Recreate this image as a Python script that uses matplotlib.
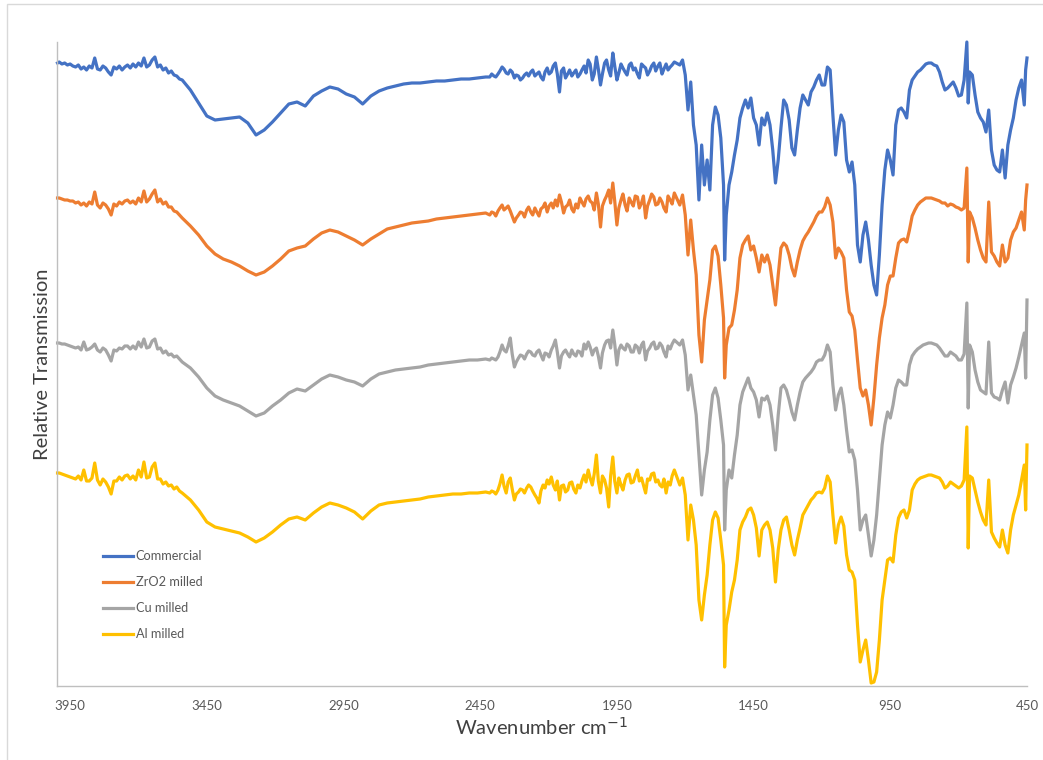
import matplotlib
matplotlib.use("Agg")
import matplotlib.pyplot as plt
from matplotlib.patches import Rectangle

plt.rcParams['font.family'] = ['Lato', 'DejaVu Sans']

# wavenumbers (cm-1), shared by all four spectra
wn_high = [3996, 3990, 3980, 3970, 3960, 3950, 3940, 3930, 3920, 3910, 3900, 3890,
           3880, 3870, 3860, 3850, 3840, 3830, 3820, 3810, 3800, 3790, 3780, 3770,
           3760, 3750, 3740, 3730, 3720, 3710, 3700, 3690, 3680, 3670, 3660, 3650,
           3640, 3630, 3620, 3610, 3600, 3590, 3580, 3570, 3560, 3550, 3540]
wn_mid = [3510, 3480, 3450, 3420, 3390, 3360, 3330, 3300, 3270, 3240, 3210, 3180,
          3150, 3120, 3090, 3060, 3030, 3000, 2970, 2940, 2910, 2880, 2850, 2820,
          2790, 2760, 2730, 2700, 2670, 2640, 2610, 2580, 2550, 2520, 2490, 2460, 2430]
wn_noisy = [2415, 2408, 2400, 2393, 2385, 2378, 2370, 2363, 2355, 2348, 2340, 2333,
            2325, 2318, 2310, 2303, 2295, 2288, 2280, 2273, 2265, 2258, 2250, 2243,
            2235, 2228, 2220, 2213, 2205, 2198, 2190, 2183, 2175, 2168, 2160, 2153,
            2145, 2138, 2130, 2123, 2115, 2108, 2100, 2093, 2085, 2078, 2070, 2063,
            2055, 2048, 2040, 2033, 2025, 2018, 2010, 2003, 1995, 1988, 1980, 1973,
            1965, 1958, 1950, 1943, 1935, 1928, 1920, 1913, 1905, 1898, 1890, 1883,
            1875, 1868, 1860, 1853, 1845, 1838, 1830, 1823, 1815, 1808, 1800, 1793,
            1785, 1778, 1770, 1763, 1755, 1748, 1740]
wn_finger = [1720, 1710, 1700, 1690, 1680, 1670, 1660, 1650, 1640, 1630, 1620, 1610,
             1600, 1590, 1580, 1570, 1560, 1556,
             1550, 1540, 1530, 1520, 1510, 1500, 1490, 1480, 1470, 1460,
             1450, 1440, 1430, 1420, 1410, 1400, 1390, 1380, 1370, 1360,
             1350, 1340, 1330, 1320, 1310, 1300, 1290, 1280, 1270, 1260,
             1250, 1240, 1230, 1220, 1210, 1200, 1190, 1180, 1170, 1160,
             1150, 1140, 1130, 1120, 1110, 1100, 1090, 1080, 1070, 1060,
             1050, 1040, 1030, 1020, 1010, 1000, 990, 980, 970, 960,
             950, 940, 930, 920, 910, 900, 890, 880, 870, 860,
             850, 840, 830, 820, 810, 800, 790, 780, 770, 760,
             750, 740, 730, 720, 710, 700, 690, 680, 670, 665,
             660, 650, 640, 630, 620, 610, 600, 590, 580, 570,
             560, 550, 540, 530, 520, 510, 500, 490, 480, 470,
             460, 455, 450]
wavenumber = wn_high + wn_mid + wn_noisy + wn_finger

# relative transmission (arbitrary units, traces already offset as in the chart)
commercial = [
    623, 624, 622, 623, 621, 622, 620, 619, 621, 617, 619, 616, 620, 618, 628, 617,
    616, 620, 618, 614, 611, 619, 617, 620, 616, 619, 621, 618, 622, 619, 623, 620,
    628, 619, 621, 626, 629, 619, 621, 616, 618, 613, 615, 611, 610, 607, 606,
    596, 583, 570, 566, 567, 568, 569, 563, 551, 556, 564, 573, 582, 584, 580, 590, 595, 599, 597, 592,
    589, 582, 590, 595, 598, 600, 602, 603, 603, 604, 605, 605, 606, 607, 607, 608, 609,
    609, 612, 610, 609, 612, 615, 619, 617, 613, 612, 616, 614, 608, 611, 610, 606,
    608, 611, 613, 610, 614, 616, 610, 612, 614, 609, 606, 614, 618, 612, 614, 620,
    623, 612, 594, 615, 618, 608, 612, 616, 610, 613, 616, 609, 612, 616, 620, 613,
    626, 622, 606, 612, 629, 617, 601, 612, 623, 626, 616, 610, 633, 620, 606, 613,
    622, 618, 614, 611, 621, 623, 616, 618, 612, 608, 622, 620, 618, 611, 615, 620,
    623, 615, 620, 623, 612, 617, 622, 616, 619, 621, 624,
    621, 626, 611, 576, 604, 561, 541, 486, 541, 501, 526, 496, 561, 579, 571, 548, 501, 426,
    471, 501, 514, 531, 546, 568, 578, 586, 578, 588,
    568, 561, 541, 568, 561, 573, 561, 536, 503, 526,
    558, 586, 581, 566, 538, 531, 556, 578, 591, 586,
    581, 594, 599, 606, 611, 601, 601, 619, 616, 571,
    531, 556, 571, 564, 526, 514, 524, 501, 441, 424,
    451, 464, 446, 421, 401, 391, 431, 481, 516, 536,
    526, 511, 561, 576, 578, 574, 568, 596, 606, 610,
    614, 616, 619, 622, 623, 623, 621, 620, 614, 604,
    596, 598, 601, 604, 598, 590, 591, 606, 644, 583,
    614, 611, 591, 574, 568, 564, 554, 576, 536, 521,
    516, 514, 536, 508, 541, 556, 568, 586, 598, 606,
    581, 616, 628]
zro2_milled = [
    488, 488, 487, 486, 486, 485, 485, 483, 484, 481, 483, 480, 484, 482, 494, 481,
    478, 483, 481, 477, 471, 482, 480, 484, 482, 485, 486, 483, 485, 482, 488, 484,
    495, 484, 487, 492, 496, 484, 487, 482, 484, 479, 479, 475, 474, 471, 468,
    460, 451, 440, 432, 427, 424, 420, 415, 411, 414, 420, 427, 435, 438, 440, 447, 453, 456, 454, 450,
    446, 441, 447, 452, 457, 459, 461, 463, 464, 465, 467, 468, 469, 470, 471, 472, 473,
    471, 474, 473, 470, 475, 478, 481, 476, 478, 480, 475, 470, 464, 468, 471, 474,
    473, 469, 476, 479, 474, 471, 478, 474, 470, 477, 479, 483, 474, 480, 483, 478,
    486, 480, 491, 484, 473, 479, 481, 486, 477, 474, 482, 478, 488, 484, 480, 487,
    490, 485, 483, 476, 493, 482, 459, 480, 486, 490, 496, 483, 503, 485, 461, 478,
    486, 492, 481, 475, 488, 484, 480, 490, 489, 478, 483, 490, 468, 480, 486, 492,
    489, 481, 482, 488, 484, 478, 474, 490, 486, 482, 493,
    481, 491, 471, 431, 466, 436, 411, 351, 324, 366, 386, 406, 436, 440, 430, 401, 368, 308,
    341, 358, 361, 376, 396, 428, 441, 446, 450, 436,
    440, 428, 414, 431, 424, 431, 421, 401, 381, 411,
    438, 443, 440, 431, 418, 410, 424, 436, 445, 450,
    454, 459, 464, 470, 474, 474, 479, 488, 481, 464,
    428, 438, 434, 428, 396, 374, 370, 356, 326, 298,
    290, 296, 281, 261, 288, 321, 348, 368, 381, 401,
    410, 410, 428, 443, 446, 447, 444, 456, 470, 476,
    481, 484, 486, 488, 488, 488, 487, 486, 485, 483,
    483, 480, 482, 481, 479, 478, 476, 478, 518, 424,
    474, 468, 458, 446, 436, 428, 424, 484, 434, 430,
    424, 420, 441, 424, 428, 446, 454, 458, 466, 474,
    456, 486, 501]
cu_milled = [
    343, 343, 342, 342, 341, 340, 339, 338, 339, 336, 344, 336, 337, 339, 342, 336,
    334, 338, 336, 331, 325, 336, 335, 338, 337, 340, 340, 337, 340, 337, 344, 339,
    347, 338, 339, 345, 347, 337, 338, 333, 335, 331, 332, 329, 330, 327, 324,
    318, 309, 298, 290, 286, 283, 280, 275, 270, 273, 280, 286, 293, 297, 295, 301, 307, 311, 309, 306,
    304, 300, 307, 312, 314, 316, 317, 318, 319, 321, 322, 323, 324, 325, 326, 326, 327,
    326, 328, 327, 326, 329, 334, 341, 336, 334, 340, 348, 332, 319, 324, 328, 331,
    330, 327, 332, 335, 334, 331, 330, 334, 336, 331, 326, 333, 332, 329, 336, 340,
    346, 334, 318, 330, 334, 336, 332, 329, 336, 332, 330, 335, 334, 330, 342, 337,
    344, 339, 331, 336, 338, 330, 318, 333, 341, 345, 346, 338, 356, 342, 321, 336,
    341, 338, 336, 342, 340, 334, 334, 341, 339, 333, 341, 344, 326, 335, 338, 342,
    344, 337, 338, 343, 340, 334, 329, 340, 337, 342, 346,
    341, 346, 331, 296, 311, 291, 271, 231, 191, 216, 234, 266, 291, 298, 288, 266, 241, 156,
    196, 216, 208, 231, 251, 281, 294, 301, 308, 298,
    294, 286, 269, 288, 286, 290, 281, 261, 236, 271,
    298, 301, 296, 286, 274, 266, 281, 294, 304, 308,
    311, 314, 318, 324, 326, 326, 331, 341, 334, 301,
    276, 291, 298, 281, 256, 234, 236, 226, 196, 156,
    166, 171, 151, 130, 146, 171, 206, 241, 261, 274,
    268, 281, 298, 306, 304, 301, 301, 321, 330, 334,
    337, 339, 341, 342, 343, 343, 342, 341, 338, 334,
    330, 330, 334, 332, 330, 326, 326, 332, 383, 278,
    341, 334, 316, 304, 296, 294, 292, 344, 293, 289,
    288, 286, 296, 304, 283, 301, 309, 318, 329, 341,
    353, 308, 386]
al_milled = [
    213, 213, 212, 211, 210, 209, 208, 207, 210, 206, 216, 205, 205, 208, 223, 206,
    201, 207, 204, 199, 192, 205, 205, 209, 206, 210, 211, 207, 210, 206, 216, 209,
    224, 208, 209, 219, 223, 207, 207, 202, 204, 200, 201, 197, 199, 195, 193,
    186, 176, 164, 159, 157, 155, 153, 149, 144, 148, 154, 161, 167, 169, 166, 173, 179, 183, 181, 178,
    174, 167, 175, 181, 183, 184, 185, 186, 187, 189, 190, 191, 192, 192, 193, 193, 194,
    193, 195, 194, 192, 196, 202, 211, 200, 193, 204, 208, 197, 186, 192, 194, 197,
    196, 193, 198, 201, 199, 195, 191, 188, 183, 195, 201, 198, 206, 202, 209, 201,
    196, 205, 186, 200, 201, 194, 196, 203, 204, 197, 193, 201, 198, 205, 211, 204,
    216, 208, 201, 212, 231, 205, 193, 210, 206, 198, 179, 210, 229, 205, 193, 208,
    201, 196, 206, 211, 212, 203, 204, 210, 216, 205, 208, 201, 193, 207, 206, 212,
    213, 204, 206, 201, 199, 207, 193, 204, 201, 210, 216,
    201, 208, 191, 146, 181, 166, 141, 86, 66, 91, 111, 141, 166, 174, 168, 146, 121, 19,
    61, 76, 94, 106, 126, 156, 164, 169, 176, 178,
    171, 158, 130, 156, 161, 164, 156, 138, 104, 136,
    156, 166, 169, 156, 141, 131, 146, 158, 171, 176,
    181, 186, 189, 193, 194, 193, 198, 210, 204, 171,
    143, 161, 169, 160, 131, 116, 114, 106, 61, 24,
    36, 46, 26, 3, 4, 14, 46, 86, 106, 126,
    128, 124, 151, 168, 174, 176, 168, 176, 196, 202,
    206, 208, 209, 210, 211, 211, 210, 209, 208, 204,
    198, 200, 204, 202, 200, 198, 200, 206, 259, 138,
    210, 208, 196, 184, 174, 166, 161, 206, 154, 148,
    143, 139, 156, 141, 133, 156, 171, 181, 191, 206,
    221, 176, 241]

series_names = ["Commercial", "ZrO2 milled", "Cu milled", "Al milled"]
series_colors = ["#4472C4", "#ED7D31", "#A5A5A5", "#FFC000"]
tick_values = [3950, 3450, 2950, 2450, 1950, 1450, 950, 450]

fig = plt.figure(figsize=(10.43, 7.6), dpi=100)
ax = fig.add_axes([57 / 1043, 1 - 686 / 760, 970 / 1043, 644 / 760])

for vals, name, col in zip([commercial, zro2_milled, cu_milled, al_milled],
                           series_names, series_colors):
    ax.plot(wavenumber, vals, color=col, lw=2.3, label=name,
            solid_joinstyle='round', clip_on=False)

ax.set_xlim(3998, 450)
ax.set_ylim(0, 644)
ax.set_xticks(tick_values)
ax.set_xticklabels([str(t) for t in tick_values])
ax.set_yticks([])
ax.tick_params(axis='x', length=0, pad=10, labelsize=9.5, labelcolor='#595959')

for side in ['top', 'right']:
    ax.spines[side].set_visible(False)
for side in ['left', 'bottom']:
    ax.spines[side].set_color('#BFBFBF')
    ax.spines[side].set_linewidth(1.0)

ax.set_xlabel('Wavenumber cm$^{-1}$', fontsize=14.5, color='#404040', labelpad=3)
ax.set_ylabel('Relative Transmission', fontsize=14.5, color='#404040', labelpad=4)

leg = ax.legend(loc='upper left', bbox_to_anchor=(0.047, 0.211), frameon=False,
                fontsize=9.2, handlelength=2.4, handletextpad=0.2, labelspacing=1.1,
                borderpad=0, borderaxespad=0)
for txt in leg.get_texts():
    txt.set_color('#595959')

# outer chart border (only top and left edges fall inside the image)
fig.patches.append(Rectangle((7 / 1043, -0.05), 1.2, 1 - 4 / 760 + 0.05,
                             transform=fig.transFigure, fill=False,
                             edgecolor='#D9D9D9', lw=1.0))

fig.savefig('out.png', dpi=100)
